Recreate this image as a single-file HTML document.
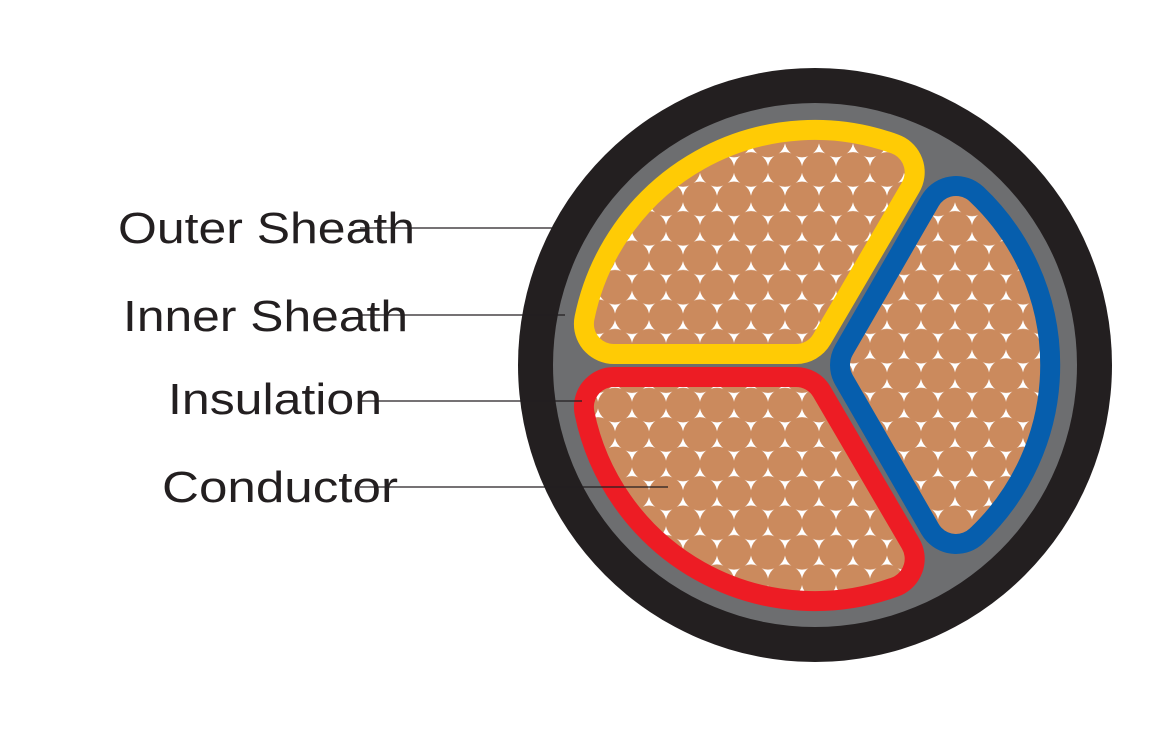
<!DOCTYPE html>
<html><head><meta charset="utf-8"><style>html,body{margin:0;padding:0;background:#fff}svg{display:block}</style></head>
<body>
<svg width="1172" height="732" viewBox="0 0 1172 732" xmlns="http://www.w3.org/2000/svg">
<defs>
<pattern id="cu" patternUnits="userSpaceOnUse" width="34" height="58.9" x="598" y="140">
<rect width="34" height="58.9" fill="#fff"/>
<circle cx="0" cy="0" r="17.3" fill="#cb8a5d"/><circle cx="34" cy="0" r="17.3" fill="#cb8a5d"/>
<circle cx="17" cy="29.45" r="17.3" fill="#cb8a5d"/>
<circle cx="0" cy="58.9" r="17.3" fill="#cb8a5d"/><circle cx="34" cy="58.9" r="17.3" fill="#cb8a5d"/>
</pattern>
<path id="y" d="M613.9 324 L796 324 L884.7 172.2 A205 205 0 0 0 613.9 324 Z"/>
<path id="r" d="M613.9 407 L796 407 L884.7 558.8 A205 205 0 0 1 613.9 407 Z"/>
<path id="b" d="M870 365 L956 216 A205 205 0 0 1 956 514 Z"/>
</defs>
<circle cx="815" cy="365" r="297" fill="#231f20"/>
<circle cx="815" cy="365" r="262" fill="#6d6e70"/>
<g stroke-linejoin="round">
<use href="#y" stroke="#ffcb05" fill="#ffcb05" stroke-width="80"/>
<use href="#r" stroke="#ed1c24" fill="#ed1c24" stroke-width="80"/>
<use href="#b" stroke="#065ead" fill="#065ead" stroke-width="80"/>
<use href="#y" stroke="url(#cu)" fill="url(#cu)" stroke-width="40"/>
<use href="#r" stroke="url(#cu)" fill="url(#cu)" stroke-width="40"/>
<use href="#b" stroke="url(#cu)" fill="url(#cu)" stroke-width="40"/>
</g>
<g font-family="Liberation Sans, sans-serif" font-size="44" fill="#231f20">
<text x="118" y="243" textLength="297" lengthAdjust="spacingAndGlyphs">Outer Sheath</text>
<text x="123" y="331" textLength="285" lengthAdjust="spacingAndGlyphs">Inner Sheath</text>
<text x="168" y="414" textLength="214" lengthAdjust="spacingAndGlyphs">Insulation</text>
<text x="162" y="502" textLength="236" lengthAdjust="spacingAndGlyphs">Conductor</text>
</g>
<g stroke="#231f20" stroke-width="1.2">
<line x1="360" y1="228" x2="553" y2="228"/>
<line x1="360" y1="315" x2="565" y2="315"/>
<line x1="360" y1="401" x2="582" y2="401"/>
<line x1="360" y1="487" x2="668" y2="487"/>
</g>
</svg>
</body></html>
